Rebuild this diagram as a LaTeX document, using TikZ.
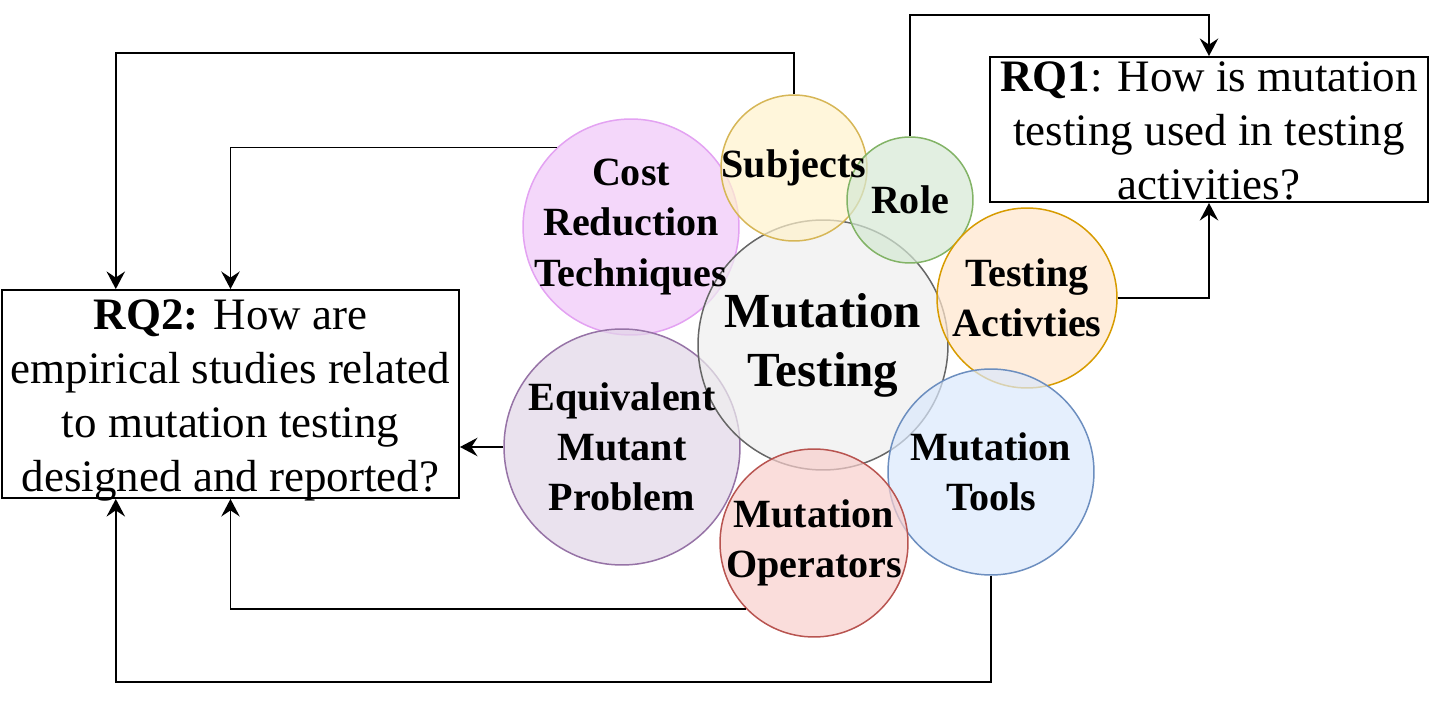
\documentclass[tikz,border=0pt]{standalone}
\usepackage{fontspec}
\setmainfont{Liberation Serif}
\usetikzlibrary{arrows.meta,calc}
\definecolor{mtfill}{HTML}{EEEEEE}\definecolor{mtline}{HTML}{666666}
\definecolor{costfill}{HTML}{EFC6F8}\definecolor{costline}{HTML}{E3A2F2}
\definecolor{subjfill}{HTML}{FFF2CC}\definecolor{subjline}{HTML}{D6B656}
\definecolor{rolefill}{HTML}{D5E8D4}\definecolor{roleline}{HTML}{82B366}
\definecolor{testfill}{HTML}{FFE6CC}\definecolor{testline}{HTML}{D79B00}
\definecolor{toolfill}{HTML}{DAE8FC}\definecolor{toolline}{HTML}{6C8EBF}
\definecolor{operfill}{HTML}{F8CECC}\definecolor{operline}{HTML}{B85450}
\definecolor{equifill}{HTML}{E1D5E7}\definecolor{equiline}{HTML}{9673A6}
\tikzset{topic/.style={circle,inner sep=0pt,line width=0.85pt,fill opacity=0.7},
  lbl/.style={align=center,inner sep=0pt,font=\fontsize{22.8}{28.5}\selectfont\bfseries},
  rq/.style={draw,line width=1.1pt,inner sep=0pt},
  rqtxt/.style={align=center,inner sep=0pt,font=\fontsize{25.6}{30.7}\selectfont},
  flow/.style={line width=1.1pt,-{Stealth[length=10pt,width=10.5pt,inset=3.5pt]}}}

\begin{document}
\begin{tikzpicture}[x=0.02cm,y=-0.02cm]
\useasboundingbox (0,0) rectangle (1431,702);
% topic circles
\node[topic,draw=costline,fill=costfill,minimum size=4.32cm] (cost) at (631,227){};
\node[topic,draw=equiline,fill=equifill,minimum size=4.72cm] (equiv) at (622,447){};
\node[topic,draw=mtline,fill=mtfill,minimum size=5cm] (mt) at (823,345){};
\node[topic,draw=subjline,fill=subjfill,minimum size=2.92cm] (subj) at (794,168){};
\node[topic,draw=roleline,fill=rolefill,minimum size=2.52cm] (role) at (910,200){};
\node[topic,draw=testline,fill=testfill,minimum size=3.6cm] (test) at (1027,298){};
\node[topic,draw=toolline,fill=toolfill,minimum size=4.12cm] (tools) at (991,472){};
\node[topic,draw=operline,fill=operfill,minimum size=3.76cm] (oper) at (814,543){};
% labels on top
\node[lbl] (costtxt) at (cost){Cost\\Reduction\\Techniques};
\node[lbl] (equivtxt) at (equiv){Equivalent\\Mutant\\Problem};
\node[lbl,font=\fontsize{27.9}{33.6}\selectfont\bfseries] (mttxt) at (mt){Mutation\\Testing};
\node[lbl] (subjtxt) at (subj){Subjects};
\node[lbl] (roletxt) at (role){Role};
\node[lbl] (testtxt) at (test){Testing\\Activties};
\node[lbl] (toolstxt) at (tools){Mutation\\Tools};
\node[lbl] (opertxt) at (oper){Mutation\\Operators};
% research questions
\node[rq,minimum width=8.76cm,minimum height=2.9cm] (rqone) at (1209,129.5){};
\node[rqtxt] (rqonetxt) at ([yshift=-1pt]rqone.center){\textbf{RQ1}: How is mutation\\testing used in testing\\activities?};
\node[rq,minimum width=9.14cm,minimum height=4.16cm] (rqtwo) at (230.5,394){};
\node[rqtxt] (rqtwotxt) at ([yshift=-3.6pt]rqtwo.center){\textbf{RQ2:} How are\\empirical studies related\\to mutation testing\\designed and reported?};
\coordinate (top1) at ($(rqtwo.north west)!.25!(rqtwo.north east)$);
\coordinate (bot1) at ($(rqtwo.south west)!.25!(rqtwo.south east)$);
\coordinate (c1) at (top1 |- 0,53);\coordinate (c3) at (rqone.north |- 0,15);\coordinate (c7) at (bot1 |- 0,682);
% connectors
\draw[flow] (subj.north) |- (c1) -- (top1);
\draw[flow] (cost.133) -| (rqtwo.north);
\draw[flow] (role.north) |- (c3) -- (rqone.north);
\draw[flow] (test.east) -| (rqone.south);
\draw[flow] (equiv.west) -- (equiv.west -| rqtwo.east);
\draw[flow] (oper.224) -| (rqtwo.south);
\draw[flow] (tools.south) |- (c7) -- (bot1);
\end{tikzpicture}
\end{document}
